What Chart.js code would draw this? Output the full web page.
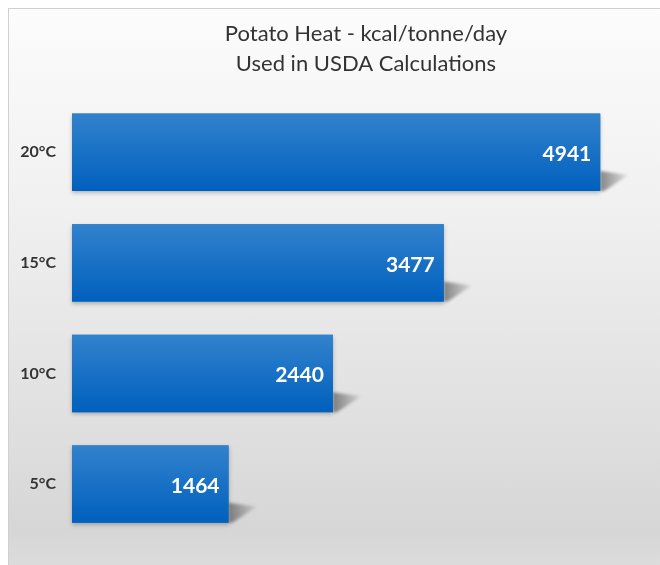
<!DOCTYPE html>
<html>
<head>
<meta charset="utf-8">
<script src="https://cdn.jsdelivr.net/npm/chart.js@4.4.1/dist/chart.umd.min.js"></script>
<style>
  html, body { margin: 0; padding: 0; background: #fff; overflow: hidden; }
  #box {
    position: absolute; left: 8px; top: 8px; width: 672px; height: 580px;
    border: 1px solid #d0d0d0;
    background: linear-gradient(to bottom, #fcfcfc 0%, #f0f0f0 35%, #dedede 75%, #d6d6d6 90%, #e0e0e0 100%);
  }
  canvas { display: block; }
</style>
</head>
<body>
<div id="box"><canvas id="chart" width="672" height="556"></canvas></div>
<script>
var categories = ['20°C', '15°C', '10°C', '5°C'];
var heatValues = [4941, 3477, 2440, 1464];
var titleLines = ['Potato Heat - kcal/tonne/day', 'Used in USDA Calculations'];

var barPct = 0.7;

// blue gradient for each bar, worked out from the y scale
function barFill(c) {
    var ch = c.chart;
    var ys = ch.scales.y;
    if (!ys || !ch.chartArea || c.dataIndex === undefined) return '#1a6fc4';
    var cy = ys.getPixelForValue(c.dataIndex);
    var h = (ch.chartArea.bottom - ch.chartArea.top) / categories.length * barPct;
    var g = ch.ctx.createLinearGradient(0, cy - h / 2, 0, cy + h / 2);
    g.addColorStop(0, '#3282cd');
    g.addColorStop(1, '#0060bd');
    return g;
}

var barShadows = {
    id: 'barShadows',
    beforeDatasetsDraw: function(chart) {
        var ctx = chart.ctx;
        chart.getDatasetMeta(0).data.forEach(function(el) {
            var top = el.y - el.height / 2, bottom = el.y + el.height / 2;
            var left = el.base, right = el.x;
            ctx.save();
            // soft shadow under the bar
            ctx.shadowColor = 'rgba(0,0,0,0.25)';
            ctx.shadowBlur = 4;
            ctx.shadowOffsetY = 2;
            ctx.fillStyle = '#1a6fc4';
            ctx.fillRect(left, top, right - left, bottom - top);
            ctx.restore();

            // wedge shadow to the right
            ctx.save();
            ctx.filter = 'blur(1.5px)';
            var g = ctx.createLinearGradient(right, 0, right + 30, 0);
            g.addColorStop(0, 'rgba(60,60,60,0.6)');
            g.addColorStop(1, 'rgba(60,60,60,0.05)');
            ctx.fillStyle = g;
            ctx.beginPath();
            ctx.moveTo(right, bottom - 20);
            ctx.lineTo(right + 28, bottom - 16);
            ctx.lineTo(right + 4, bottom);
            ctx.lineTo(right, bottom);
            ctx.closePath();
            ctx.fill();
            ctx.restore();
        });
    }
};

var barLabels = {
    id: 'barLabels',
    afterDatasetsDraw: function(chart) {
        var ctx = chart.ctx;
        var ds = chart.data.datasets[0];
        ctx.save();
        ctx.font = 'bold 21px Lato';
        ctx.fillStyle = '#ffffff';
        ctx.textAlign = 'right';
        ctx.textBaseline = 'middle';
        chart.getDatasetMeta(0).data.forEach(function(el, i) {
            ctx.fillText(String(ds.data[i]), el.x - 9, el.y + 2);
        });
        ctx.restore();
    }
};

var ctx = document.getElementById('chart');
var myChart = new Chart(ctx, {
    type: 'bar',
    data: {
        labels: categories,
        datasets: [{
            data: heatValues,
            backgroundColor: barFill,
            borderWidth: 0,
            categoryPercentage: 1,
            barPercentage: barPct
        }]
    },
    options: {
        indexAxis: 'y',
        responsive: false,
        animation: false,
        layout: { padding: { left: 0, right: 21, top: 0, bottom: 24 } },
        plugins: {
            legend: { display: false },
            tooltip: { enabled: false },
            title: {
                display: true,
                text: titleLines,
                fullSize: false,
                color: '#333333',
                font: { family: 'Lato', size: 22, weight: 'normal', lineHeight: 30 / 22 },
                padding: { top: 10, bottom: 18 }
            }
        },
        scales: {
            x: { display: false, min: 0, max: 5500 },
            y: {
                grid: { display: false, drawTicks: false },
                border: { display: false },
                ticks: { color: '#333333', padding: 16, font: { family: 'Lato', size: 16, weight: 'bold' } },
                afterFit: function(s) { s.width = 63; }
            }
        }
    },
    plugins: [barShadows, barLabels]
});
</script>
</body>
</html>
